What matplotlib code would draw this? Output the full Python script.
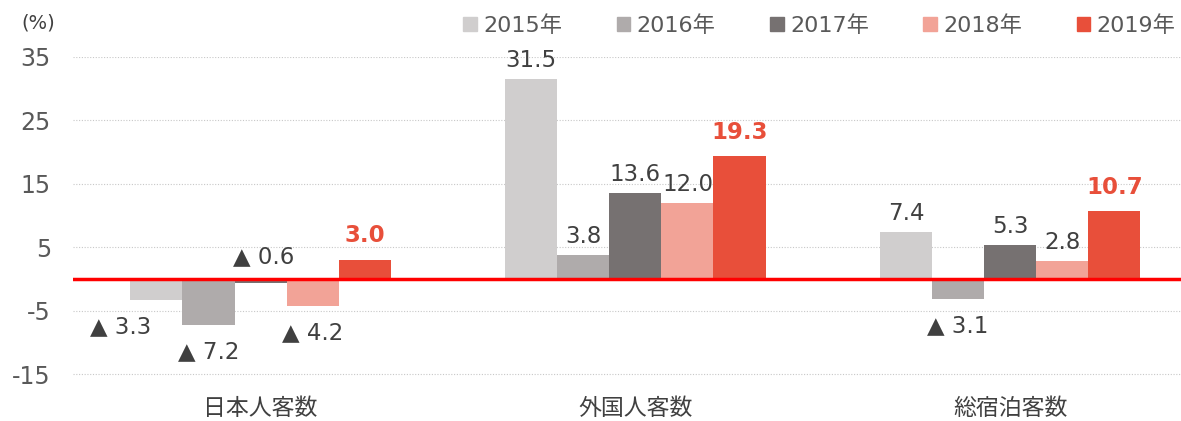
import matplotlib.pyplot as plt
import numpy as np
from matplotlib.patches import Patch

plt.rcParams['font.family'] = ['DejaVu Sans', 'Noto Sans CJK JP']

categories = ["日本人客数", "外国人客数", "総宿泊客数"]
years = ["2015年", "2016年", "2017年", "2018年", "2019年"]
values = [
    [-3.3, 31.5, 7.4],   # 2015
    [-7.2, 3.8, -3.1],   # 2016
    [-0.6, 13.6, 5.3],   # 2017
    [-4.2, 12.0, 2.8],   # 2018
    [3.0, 19.3, 10.7],   # 2019
]
colors = ["#D0CECE", "#AFABAB", "#767171", "#F2A397", "#E84F3A"]
yticks = [-15, -5, 5, 15, 25, 35]

fig = plt.figure(figsize=(11.81, 4.21), dpi=100)
ax = fig.add_axes([0.062, 0.066, 0.938, 0.799])

x = np.arange(len(categories))
w = 0.139
text_col = "#404040"
fs = 16.5

for i, (yr, vals) in enumerate(zip(years, values)):
    xs = x + (i - 2) * w
    ax.bar(xs, vals, width=w, color=colors[i], zorder=2)
    for j, (xx, v) in enumerate(zip(xs, vals)):
        if i == 4:
            ax.annotate(f"{v:.1f}", (xx, v), xytext=(0, 9), textcoords="offset points",
                        ha="center", va="bottom", fontsize=fs, fontweight="bold",
                        color=colors[4])
        elif v >= 0:
            ax.annotate(f"{v:.1f}", (xx, v), xytext=(0, 5), textcoords="offset points",
                        ha="center", va="bottom", fontsize=fs, color=text_col)
        elif abs(v) < 1:
            # tiny negative bar: label sits above the zero line
            ax.annotate(f"▲ {abs(v):.1f}", (xx, 0), xytext=(2, 8), textcoords="offset points",
                        ha="center", va="bottom", fontsize=fs, color=text_col)
        else:
            dx = -26 if (i == 0 and j == 0) else 0
            ax.annotate(f"▲ {abs(v):.1f}", (xx, v), xytext=(dx, -11), textcoords="offset points",
                        ha="center", va="top", fontsize=fs, color=text_col)

ax.axhline(0, color="#FF0000", lw=2.5, zorder=3)
for t in yticks:
    ax.axhline(t, color="#C8C8C8", lw=0.8, ls=(0, (1, 1.5)), zorder=1)

ax.set_xlim(-0.5, 2.456)
ax.set_ylim(-18, 35)
ax.set_yticks(yticks)
ax.set_yticklabels([str(t) for t in yticks], fontsize=17, color="#595959")
ax.set_xticks(x)
ax.set_xticklabels(categories, fontsize=16.5, color="#404040")
ax.tick_params(axis="y", length=0, pad=16)
ax.tick_params(axis="x", length=0, pad=3)
for s in ax.spines.values():
    s.set_visible(False)

fig.text(0.032, 0.945, "(%)", fontsize=14, color="#404040", ha="center", va="center")

handles = [Patch(color=c) for c in colors]
fig.legend(handles, years, loc="upper right", bbox_to_anchor=(1.0, 0.978), ncol=5,
           frameon=False, fontsize=16, handlelength=0.62, handleheight=0.62,
           handletextpad=0.28, columnspacing=2.45, borderaxespad=0, borderpad=0.25,
           labelcolor="#595959")

fig.savefig("out.png", dpi=100)
